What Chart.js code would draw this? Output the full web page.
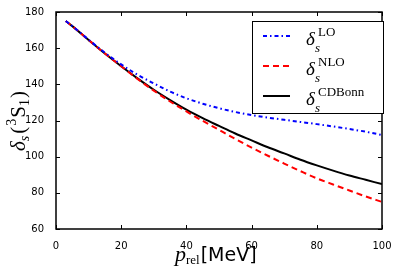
<!DOCTYPE html>
<html>
<head>
<meta charset="utf-8">
<script src="https://cdn.jsdelivr.net/npm/chart.js@4.4.1/dist/chart.umd.min.js"></script>
<style>
  body { margin: 0; background: #fff; }
  canvas { display: block; }
</style>
</head>
<body>
<canvas id="phaseChart" width="399" height="274"></canvas>
<script>
"use strict";

// momentum grid and phase shifts
const pRel = [3, 5, 10, 15, 20, 25, 30, 35, 40, 45, 50, 55, 60, 65, 70, 75, 80, 85, 90, 95, 100];
const deltaLO = [175, 172.2, 164.7, 157.5, 151, 145.3, 140.5, 136, 132.3, 129.3, 126.8, 124.7, 123, 121.6, 120.4, 119.2, 118, 116.7, 115.3, 113.8, 112];
const deltaNLO = [175, 172.2, 164.5, 157, 150, 143, 136.5, 130.5, 125, 119.8, 114.8, 109.8, 105, 100.5, 96.2, 92, 88, 84.6, 81.3, 78, 75];
const deltaCDBonn = [175, 172.2, 164.5, 157, 150, 143.3, 137, 131.3, 126, 121.3, 117, 112.8, 109, 105.2, 101.8, 98.3, 95.2, 92.3, 89.6, 87.2, 84.8];

const xTicks = [0, 20, 40, 60, 80, 100];
const yTicks = [60, 80, 100, 120, 140, 160, 180];

const legendNames = ["LO", "NLO", "CDBonn"];

const toPoints = (ys) => pRel.map((x, i) => ({ x: x, y: ys[i] }));

const SERIF = "'Liberation Serif', 'DejaVu Serif', serif";

// draws a run of text pieces, each with own font and vertical offset
function drawRich(ctx, parts, x, y) {
  let cx = x;
  for (const p of parts) {
    ctx.font = p.font;
    ctx.fillText(p.t, cx, y + (p.dy || 0));
    cx += ctx.measureText(p.t).width + (p.gap || 0);
  }
  return cx - x;
}

function richWidth(ctx, parts) {
  let w = 0;
  for (const p of parts) {
    ctx.font = p.font;
    w += ctx.measureText(p.t).width + (p.gap || 0);
  }
  return w;
}

const decorations = {
  id: "decorations",
  afterDraw(chart) {
    const ctx = chart.ctx;
    const a = chart.chartArea;
    const xs = chart.scales.x;
    const ys = chart.scales.y;

    ctx.save();
    ctx.strokeStyle = "#000";
    ctx.fillStyle = "#000";

    // frame
    ctx.lineWidth = 1.5;
    ctx.strokeRect(a.left, a.top, a.right - a.left, a.bottom - a.top);

    // inward ticks on all four sides
    ctx.lineWidth = 1;
    ctx.beginPath();
    for (const v of xTicks) {
      const px = Math.round(xs.getPixelForValue(v)) + 0.5;
      ctx.moveTo(px, a.bottom); ctx.lineTo(px, a.bottom - 4);
      ctx.moveTo(px, a.top); ctx.lineTo(px, a.top + 4);
    }
    for (const v of yTicks) {
      const py = Math.round(ys.getPixelForValue(v)) + 0.5;
      ctx.moveTo(a.left, py); ctx.lineTo(a.left + 4, py);
      ctx.moveTo(a.right, py); ctx.lineTo(a.right - 4, py);
    }
    ctx.stroke();

    // legend box
    const lx = 252, ly = 21, lw = 131, lh = 92;
    ctx.fillStyle = "#fff";
    ctx.fillRect(lx, ly, lw, lh);
    ctx.lineWidth = 1;
    ctx.strokeStyle = "#000";
    ctx.strokeRect(lx + 0.5, ly + 0.5, lw, lh);

    chart.data.datasets.forEach((ds, i) => {
      const rowY = 36 + i * 30;
      ctx.save();
      ctx.strokeStyle = ds.borderColor;
      ctx.lineWidth = ds.borderWidth;
      ctx.setLineDash(ds.borderDash || []);
      ctx.beginPath();
      ctx.moveTo(263, rowY);
      ctx.lineTo(290, rowY);
      ctx.stroke();
      ctx.restore();

      ctx.fillStyle = "#000";
      ctx.textBaseline = "alphabetic";
      ctx.textAlign = "left";
      const base = rowY + 9;
      ctx.font = "italic 19px " + SERIF;
      ctx.fillText("\u03b4", 306, base);
      ctx.font = "italic 13px " + SERIF;
      ctx.fillText("s", 315, base + 7);
      ctx.font = "13px " + SERIF;
      ctx.fillText(legendNames[i], 318, base - 9);
    });

    // y axis title
    ctx.fillStyle = "#000";
    ctx.textAlign = "left";
    ctx.textBaseline = "alphabetic";
    const yParts = [
      { t: "\u03b4", font: "italic 21px " + SERIF },
      { t: "s", font: "italic 14px " + SERIF, dy: 4, gap: 2 },
      { t: "(", font: "21px " + SERIF, gap: 1 },
      { t: "3", font: "14px " + SERIF, dy: -9, gap: 1 },
      { t: "S", font: "21px " + SERIF },
      { t: "1", font: "14px " + SERIF, dy: 4, gap: 1 },
      { t: ")", font: "21px " + SERIF }
    ];
    ctx.save();
    ctx.translate(25, 121);
    ctx.rotate(-Math.PI / 2);
    const yw = richWidth(ctx, yParts);
    drawRich(ctx, yParts, -yw / 2, 0);
    ctx.restore();

    // x axis title
    const xParts = [
      { t: "p", font: "italic 22px " + SERIF },
      { t: "rel", font: "13px " + SERIF, dy: 3, gap: 1 },
      { t: "[MeV]", font: "19px 'DejaVu Sans', sans-serif" }
    ];
    drawRich(ctx, xParts, 175, 261);

    ctx.restore();
  }
};

const ctx = document.getElementById("phaseChart").getContext("2d");

const phaseChart = new Chart(ctx, {
  type: "line",
  data: {
    datasets: [
      {
        label: "LO",
        data: toPoints(deltaLO),
        borderColor: "#0000ff",
        borderWidth: 2,
        borderDash: [4, 3, 1.5, 3],
        pointRadius: 0,
        fill: false,
        cubicInterpolationMode: "monotone",
      },
      {
        label: "NLO",
        data: toPoints(deltaNLO),
        borderColor: "#ff0000",
        borderWidth: 2,
        borderDash: [6, 4],
        pointRadius: 0,
        fill: false,
        cubicInterpolationMode: "monotone",
      },
      {
        label: "CDBonn",
        data: toPoints(deltaCDBonn),
        borderColor: "#000000",
        borderWidth: 2,
        pointRadius: 0,
        fill: false,
        cubicInterpolationMode: "monotone",
      },
    ],
  },
  options: {
    responsive: false,
    animation: false,
    layout: { padding: { top: 12, right: 17, left: 0, bottom: 0 } },
    plugins: {
      legend: { display: false },
      tooltip: { enabled: false },
    },
    scales: {
      x: {
        type: "linear",
        min: 0,
        max: 100,
        afterBuildTicks: (s) => { s.ticks = xTicks.map((v) => ({ value: v })); },
        afterFit: (s) => { s.height = 45; },
        grid: { display: false },
        border: { display: false },
        ticks: {
          color: "#000",
          padding: 3,
          maxRotation: 0,
          font: { family: "'DejaVu Sans', sans-serif", size: 10 },
        },
      },
      y: {
        type: "linear",
        min: 60,
        max: 180,
        afterBuildTicks: (s) => { s.ticks = yTicks.map((v) => ({ value: v })); },
        afterFit: (s) => { s.width = 56; },
        grid: { display: false },
        border: { display: false },
        ticks: {
          color: "#000",
          padding: 4,
          font: { family: "'DejaVu Sans', sans-serif", size: 10 },
        },
      },
    },
  },
  plugins: [decorations],
});
</script>
</body>
</html>
